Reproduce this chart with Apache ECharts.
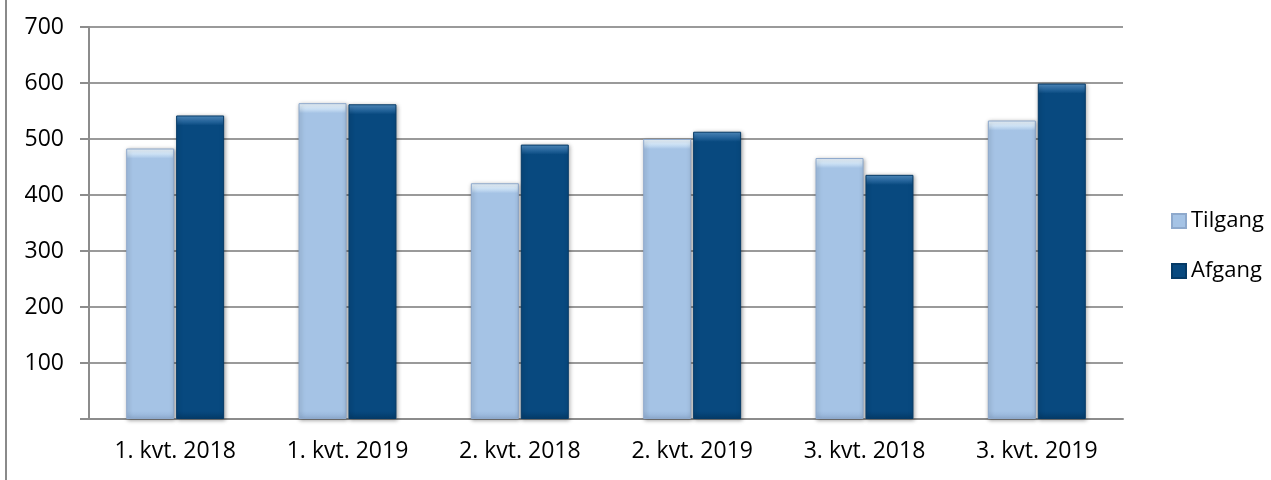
<!DOCTYPE html>
<html>
<head>
<meta charset="utf-8">
<script src="https://cdn.jsdelivr.net/npm/echarts@6/dist/echarts.min.js"></script>
<style>
html,body{margin:0;padding:0;background:#fff;}
#chart{width:1271px;height:480px;}
</style>
</head>
<body>
<div id="chart"></div>
<script>
const categories = ['1. kvt. 2018', '1. kvt. 2019', '2. kvt. 2018', '2. kvt. 2019', '3. kvt. 2018', '3. kvt. 2019'];
const tilgang = [483, 564, 421, 500, 466, 533];
const afgang = [542, 562, 490, 513, 436, 599];
const seriesNames = ['Tilgang', 'Afgang'];
const yTicks = [0, 100, 200, 300, 400, 500, 600, 700];

const FONT = '"Open Sans", "Noto Sans", sans-serif';
const gridTop = 27, gridBottom = 61;
const plotH = 480 - gridTop - gridBottom;
const yMax = 700;

function bevel(value, light, mid, base, dark) {
  const h = Math.max(1, value / yMax * plotH);
  const b = Math.min(0.5, 10 / h);
  const e = Math.min(0.45, 8 / h);
  return new echarts.graphic.LinearGradient(0, 0, 0, 1, [
    { offset: 0, color: light },
    { offset: b * 0.5, color: mid },
    { offset: b, color: base },
    { offset: 1 - e, color: base },
    { offset: 1, color: dark }
  ]);
}

const chart = echarts.init(document.getElementById('chart'), null, { renderer: 'canvas' });
chart.setOption({
  backgroundColor: '#ffffff',
  animation: false,
  textStyle: { fontFamily: FONT },
  grid: { left: 89, right: 148, top: gridTop, bottom: gridBottom, containLabel: false },
  legend: {
    orient: 'vertical',
    left: 1166,
    top: 205,
    itemWidth: 14,
    itemHeight: 14,
    itemGap: 28,
    icon: 'rect',
    data: seriesNames,
    textStyle: { fontFamily: FONT, fontSize: 22, color: '#000', lineHeight: 22 }
  },
  xAxis: {
    type: 'category',
    data: categories,
    axisLine: { show: true, lineStyle: { color: '#8c8c8c', width: 2 } },
    axisTick: { show: false },
    axisLabel: { color: '#000', fontSize: 23, fontFamily: FONT, margin: 21 }
  },
  yAxis: {
    type: 'value',
    min: yTicks[0],
    max: yTicks[yTicks.length - 1],
    interval: 100,
    axisLine: { show: true, lineStyle: { color: '#8c8c8c', width: 2 } },
    axisTick: { show: true, inside: false, length: 9, lineStyle: { color: '#8c8c8c', width: 2 } },
    splitLine: { show: true, lineStyle: { color: '#9a9a9a', width: 2 } },
    axisLabel: {
      color: '#000', fontSize: 23, fontFamily: FONT, margin: 25,
      formatter: v => (v === 0 ? '' : String(v))
    }
  },
  series: [
    {
      name: seriesNames[0],
      type: 'bar',
      barWidth: 48,
      barGap: '4%',
      itemStyle: {
        color: '#a5c3e5',
        borderColor: '#8ea9cc',
        borderWidth: 1,
        shadowColor: 'rgba(0,0,0,0.35)',
        shadowBlur: 4,
        shadowOffsetX: 1,
        shadowOffsetY: 1
      },
      data: tilgang.map(v => ({
        value: v,
        itemStyle: { color: bevel(v, '#f0f9ff', '#d2e6f8', '#a5c3e5', '#93b1d6') }
      }))
    },
    {
      name: seriesNames[1],
      type: 'bar',
      barWidth: 48,
      barGap: '4%',
      itemStyle: {
        color: '#08497f',
        borderColor: '#053a66',
        borderWidth: 1,
        shadowColor: 'rgba(0,0,0,0.35)',
        shadowBlur: 4,
        shadowOffsetX: 1,
        shadowOffsetY: 1
      },
      data: afgang.map(v => ({
        value: v,
        itemStyle: { color: bevel(v, '#5592c6', '#2d6ca3', '#08497f', '#053d6c') }
      }))
    }
  ],
  graphic: [
    {
      type: 'line',
      shape: { x1: 6, y1: 0, x2: 6, y2: 480 },
      style: { stroke: '#8a8a8a', lineWidth: 2 }
    }
  ]
});
</script>
</body>
</html>
